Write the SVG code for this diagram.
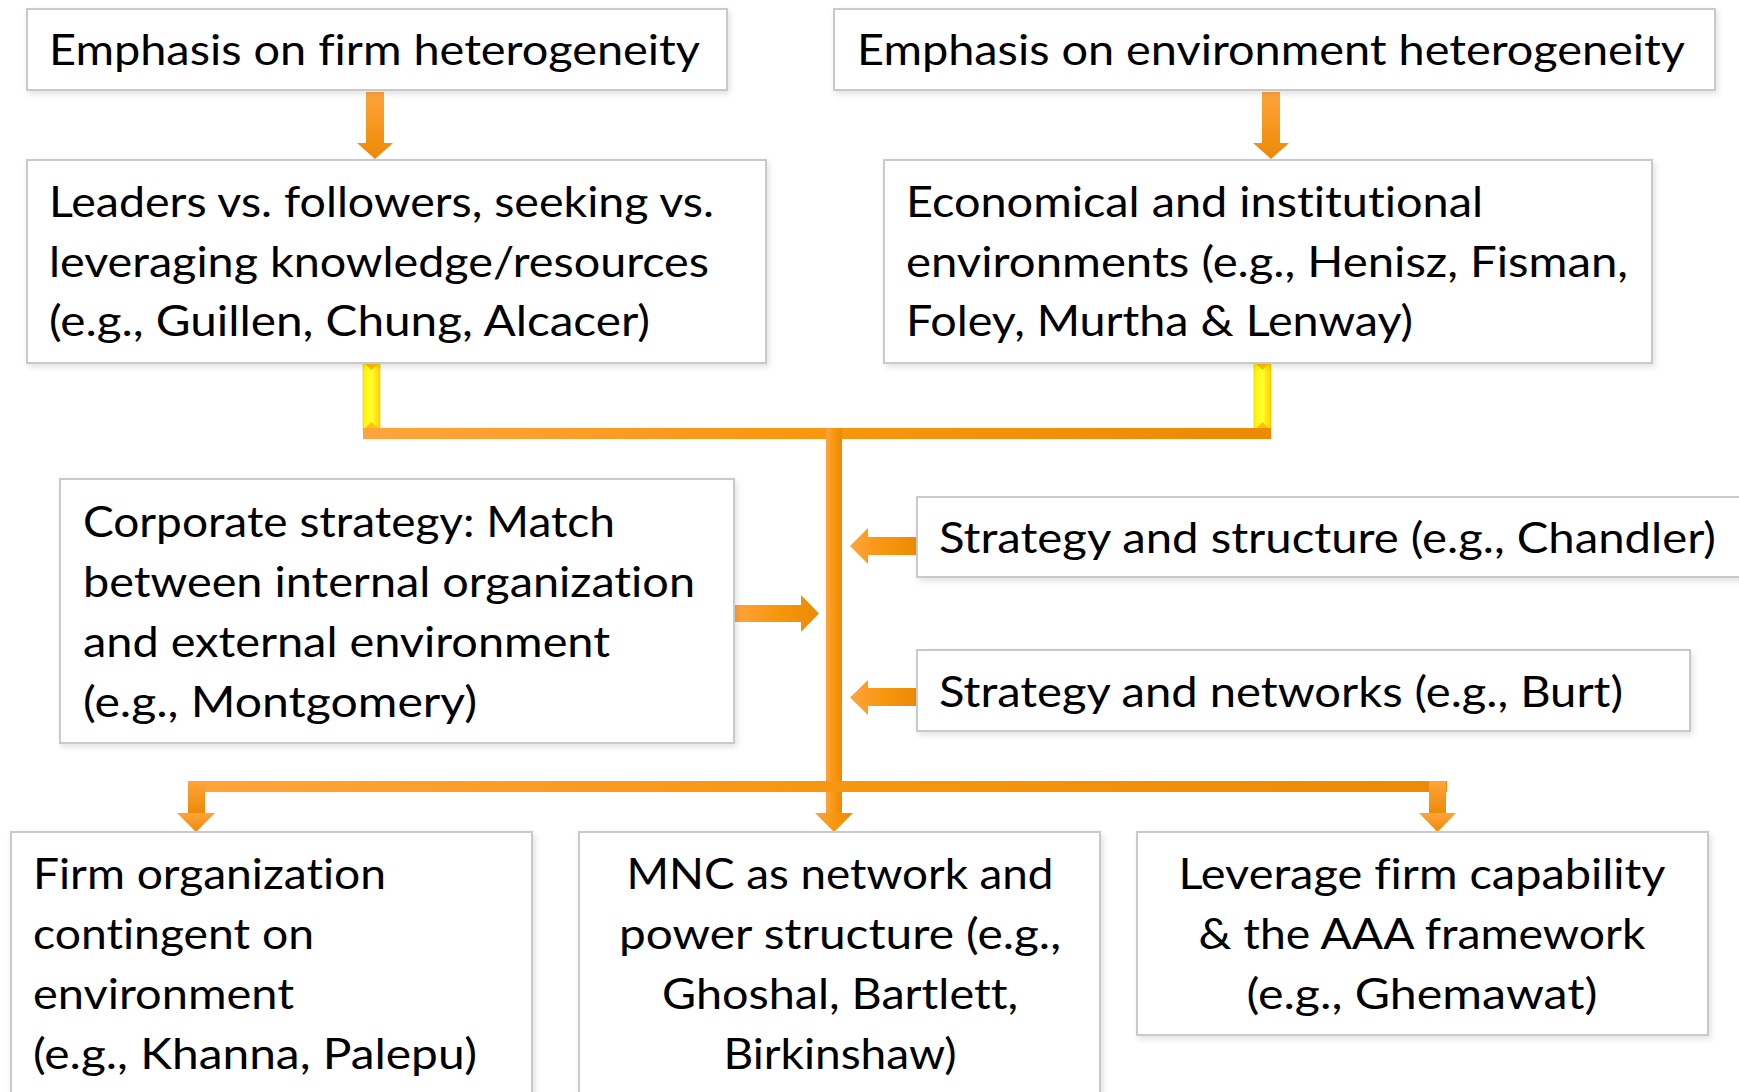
<svg xmlns="http://www.w3.org/2000/svg" width="1739" height="1092" viewBox="0 0 1739 1092">
<defs>
<linearGradient id="og" x1="0" y1="0" x2="1" y2="0">
<stop offset="0" stop-color="#FFA43C"/><stop offset="0.5" stop-color="#F7960F"/><stop offset="1" stop-color="#EC8A05"/>
</linearGradient>
<linearGradient id="ogv" x1="0" y1="0" x2="0" y2="1">
<stop offset="0" stop-color="#FFA43C"/><stop offset="1" stop-color="#EC8A05"/>
</linearGradient>
<linearGradient id="yg" x1="0" y1="0" x2="1" y2="0">
<stop offset="0" stop-color="#FFF200"/><stop offset="0.5" stop-color="#FFFF30"/><stop offset="1" stop-color="#FFD000"/>
</linearGradient>
<filter id="sh" x="-5%" y="-5%" width="110%" height="120%">
<feGaussianBlur in="SourceAlpha" stdDeviation="3"/>
<feOffset dx="2" dy="3"/>
<feComponentTransfer><feFuncA type="linear" slope="0.12"/></feComponentTransfer>
<feMerge><feMergeNode/><feMergeNode in="SourceGraphic"/></feMerge>
</filter>
</defs>
<style>
.box{fill:#ffffff;stroke:#c9c9c9;stroke-width:2;filter:url(#sh)}
.t{font-family:Lato,"Open Sans","Liberation Sans",sans-serif;font-size:42px;fill:#000000;font-variant-ligatures:none}
.c{text-anchor:middle}
.o{fill:url(#og)}
.ov{fill:url(#ogv)}
</style>
<rect width="1739" height="1092" fill="#ffffff"/>

<g id="connectors">
  <path class="ov" d="M366,92 H384 V143 H393 L375,159 L357,143 H366 Z"/>
  <path class="ov" d="M1262,92 H1280 V143 H1289 L1271,159 L1253,143 H1262 Z"/>
  <rect x="363" y="362" width="17" height="68" fill="url(#yg)" stroke="#F0C000" stroke-width="0.6"/>
  <path d="M363,362 H380 L371.5,370 Z" fill="#FFC400"/>
  <path d="M363,430 H380 L371.5,422 Z" fill="#FFC400"/>
  <rect x="1254" y="362" width="17" height="68" fill="url(#yg)" stroke="#F0C000" stroke-width="0.6"/>
  <path d="M1254,362 H1271 L1262.5,370 Z" fill="#FFC400"/>
  <path d="M1254,430 H1271 L1262.5,422 Z" fill="#FFC400"/>
  <rect class="o" x="363" y="428" width="908" height="11"/>
  <rect class="o" x="826" y="428" width="16" height="386"/>
  <path class="o" d="M815,813 H853 L834,832 Z"/>
  <rect class="o" x="188" y="781" width="1259" height="11"/>
  <rect class="ov" x="188" y="781" width="17" height="33"/>
  <path class="ov" d="M177,813 H215 L196,832 Z"/>
  <rect class="ov" x="1429" y="781" width="17" height="33"/>
  <path class="ov" d="M1419,813 H1456 L1437.5,832 Z"/>
  <path class="o" d="M734,605 H801 V595 L819,613.5 L801,632 V622 H734 Z"/>
  <path class="o" d="M917,537 H868 V528 L850,546 L868,564 V555 H917 Z"/>
  <path class="o" d="M917,688 H868 V680 L850,697.5 L868,715 V706 H917 Z"/>
</g>

<g id="n-firm-het">
  <rect class="box" x="27" y="9" width="700" height="81"/>
  <text class="t" x="49" y="65" textLength="651" lengthAdjust="spacingAndGlyphs">Emphasis on firm heterogeneity</text>
</g>
<g id="n-env-het">
  <rect class="box" x="834" y="9" width="881" height="81"/>
  <text class="t" x="857" y="65" textLength="828" lengthAdjust="spacingAndGlyphs">Emphasis on environment heterogeneity</text>
</g>
<g id="n-leaders">
  <rect class="box" x="27" y="160" width="739" height="203"/>
  <text class="t" x="49" y="217" textLength="665" lengthAdjust="spacingAndGlyphs">Leaders vs. followers, seeking vs.</text>
  <text class="t" x="49" y="277" textLength="660" lengthAdjust="spacingAndGlyphs">leveraging knowledge/resources</text>
  <text class="t" x="49" y="336" textLength="601" lengthAdjust="spacingAndGlyphs">(e.g., Guillen, Chung, Alcacer)</text>
</g>
<g id="n-econ">
  <rect class="box" x="884" y="160" width="768" height="203"/>
  <text class="t" x="906" y="217" textLength="577" lengthAdjust="spacingAndGlyphs">Economical and institutional</text>
  <text class="t" x="906" y="277" textLength="722" lengthAdjust="spacingAndGlyphs">environments (e.g., Henisz, Fisman,</text>
  <text class="t" x="906" y="336" textLength="507" lengthAdjust="spacingAndGlyphs">Foley, Murtha &amp; Lenway)</text>
</g>
<g id="n-corporate">
  <rect class="box" x="60" y="479" width="674" height="264"/>
  <text class="t" x="83" y="537" textLength="532" lengthAdjust="spacingAndGlyphs">Corporate strategy: Match</text>
  <text class="t" x="83" y="597" textLength="612" lengthAdjust="spacingAndGlyphs">between internal organization</text>
  <text class="t" x="83" y="657" textLength="527" lengthAdjust="spacingAndGlyphs">and external environment</text>
  <text class="t" x="83" y="717" textLength="394" lengthAdjust="spacingAndGlyphs">(e.g., Montgomery)</text>
</g>
<g id="n-structure">
  <rect class="box" x="917" y="497" width="840" height="80"/>
  <text class="t" x="939" y="553" textLength="777" lengthAdjust="spacingAndGlyphs">Strategy and structure (e.g., Chandler)</text>
</g>
<g id="n-networks">
  <rect class="box" x="917" y="650" width="773" height="81"/>
  <text class="t" x="939" y="707" textLength="684" lengthAdjust="spacingAndGlyphs">Strategy and networks (e.g., Burt)</text>
</g>
<g id="n-firm-org">
  <rect class="box" x="11" y="832" width="521" height="280"/>
  <text class="t" x="33" y="889" textLength="353" lengthAdjust="spacingAndGlyphs">Firm organization</text>
  <text class="t" x="33" y="949" textLength="281" lengthAdjust="spacingAndGlyphs">contingent on</text>
  <text class="t" x="33" y="1009" textLength="261" lengthAdjust="spacingAndGlyphs">environment</text>
  <text class="t" x="33" y="1069" textLength="444" lengthAdjust="spacingAndGlyphs">(e.g., Khanna, Palepu)</text>
</g>
<g id="n-mnc">
  <rect class="box" x="579" y="832" width="521" height="280"/>
  <text class="t c" x="840" y="889" textLength="427" lengthAdjust="spacingAndGlyphs">MNC as network and</text>
  <text class="t c" x="840" y="949" textLength="442" lengthAdjust="spacingAndGlyphs">power structure (e.g.,</text>
  <text class="t c" x="840" y="1009" textLength="356" lengthAdjust="spacingAndGlyphs">Ghoshal, Bartlett,</text>
  <text class="t c" x="840" y="1069" textLength="233" lengthAdjust="spacingAndGlyphs">Birkinshaw)</text>
</g>
<g id="n-leverage">
  <rect class="box" x="1137" y="832" width="571" height="203"/>
  <text class="t c" x="1422" y="889" textLength="487" lengthAdjust="spacingAndGlyphs">Leverage firm capability</text>
  <text class="t c" x="1422" y="949" textLength="447" lengthAdjust="spacingAndGlyphs">&amp; the AAA framework</text>
  <text class="t c" x="1422" y="1009" textLength="351" lengthAdjust="spacingAndGlyphs">(e.g., Ghemawat)</text>
</g>
</svg>
